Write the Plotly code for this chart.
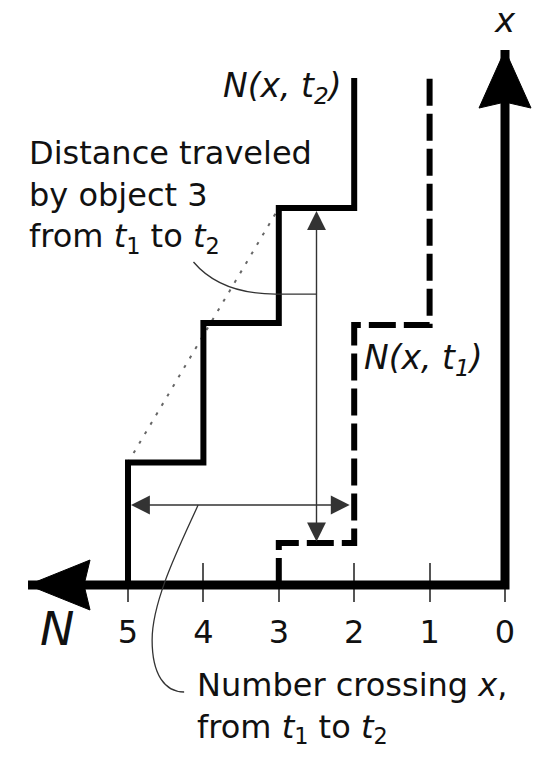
import plotly.graph_objects as go

# Cumulative count curves N(x, t): number of objects at or beyond position x.
# Points are step corners; the curve is drawn vertical-then-horizontal.
N_T2 = [5, 4, 3, 2, 2]
X_T2 = [0.0, 1.625, 3.475, 5.0, 6.724]
N_T1 = [3, 2, 1, 1]
X_T1 = [0.0, 0.557, 3.448, 6.724]

N_TICKS = [0, 1, 2, 3, 4, 5]
N_TICK_TEXT = ["0", "1", "2", "3", "4", "5"]

# Ends of the two drawn axes (arrow tips)
N_AXIS_END = 6.326
X_AXIS_END = 7.095

# Position x at which the horizontal "number crossing" arrow is read
X_PROBE = 1.061

# Canvas and scale (same number of pixels per unit on both axes)
W, H = 552, 758
PX_PER_UNIT = 75.4
ORIGIN_PX = (505, 585)

FONT = "DejaVu Sans"
INK = "#111111"
THIN = "#333333"


def count_at(ns, xs, x):
    """Value of a step curve N(x) at position x."""
    val = ns[0]
    for n, xv in zip(ns[1:], xs[1:]):
        if x >= xv:
            val = n
    return val


x_range = [ORIGIN_PX[0] / PX_PER_UNIT, (ORIGIN_PX[0] - W) / PX_PER_UNIT]
y_range = [(ORIGIN_PX[1] - H) / PX_PER_UNIT, ORIGIN_PX[1] / PX_PER_UNIT]

fig = go.Figure()

# Dotted trajectory through the t2 step corners
fig.add_trace(go.Scatter(
    x=[N_T2[0], N_T2[2]], y=[X_T2[1], X_T2[3]], mode="lines",
    line=dict(color="#666666", width=2, dash="3px,8px"), hoverinfo="skip"))

# Axes drawn as one thick polyline meeting at the origin
fig.add_trace(go.Scatter(
    x=[N_AXIS_END, 0, 0], y=[0, 0, X_AXIS_END], mode="lines",
    line=dict(color="#000000", width=9), hoverinfo="skip"))

# N(x, t1): dashed
fig.add_trace(go.Scatter(
    x=N_T1, y=X_T1, mode="lines",
    line=dict(color="#000000", width=6, dash="27px,8px", shape="vh"),
    hoverinfo="skip"))

# N(x, t2): solid
fig.add_trace(go.Scatter(
    x=N_T2, y=X_T2, mode="lines",
    line=dict(color="#000000", width=6, shape="vh"), hoverinfo="skip"))

# Axis arrowheads, sized in pixels and pinned to the axis ends
fig.add_shape(type="path", xref="x", yref="y", xsizemode="pixel", ysizemode="pixel",
              xanchor=N_AXIS_END, yanchor=0,
              path="M0,0 L62,25 L56,0 L62,-25 Z",
              fillcolor="#000000", line=dict(color="#000000", width=1))
fig.add_shape(type="path", xref="x", yref="y", xsizemode="pixel", ysizemode="pixel",
              xanchor=0, yanchor=X_AXIS_END,
              path="M0,0 L26,-58 L0,-52 L-26,-58 Z",
              fillcolor="#000000", line=dict(color="#000000", width=1))

# Distance traveled by object 3: from its t1 position to its t2 position
obj3_n = (N_T2[2] + N_T2[3]) / 2
fig.add_annotation(x=obj3_n, y=X_T2[3], ax=obj3_n, ay=X_T1[1],
                   xref="x", yref="y", axref="x", ayref="y", text="",
                   showarrow=True, arrowside="end+start",
                   arrowhead=2, startarrowhead=2, arrowsize=2.7, startarrowsize=2.7,
                   arrowwidth=1.4, arrowcolor=THIN, standoff=3, startstandoff=0)

# Number crossing X_PROBE between t1 and t2
n_t1 = count_at(N_T1, X_T1, X_PROBE)
n_t2 = count_at(N_T2, X_T2, X_PROBE)
fig.add_annotation(x=n_t2, y=X_PROBE, ax=n_t1, ay=X_PROBE,
                   xref="x", yref="y", axref="x", ayref="y", text="",
                   showarrow=True, arrowside="end+start",
                   arrowhead=2, startarrowhead=2, arrowsize=2.7, startarrowsize=2.7,
                   arrowwidth=1.4, arrowcolor=THIN, standoff=3, startstandoff=3)

# Leader curves from the captions to the arrows
fig.add_shape(type="path", xref="x", yref="y", xsizemode="pixel", ysizemode="pixel",
              xanchor=obj3_n, yanchor=3.859,
              path="M-123,32 Q-96,0 -41,0 L0,0",
              line=dict(color=THIN, width=1.3))
fig.add_shape(type="path", xref="x", yref="y", xsizemode="pixel", ysizemode="pixel",
              xanchor=4.07, yanchor=X_PROBE,
              path="M0,0 C-18,-40 -46,-95 -46,-135 C-46,-170 -33,-187 -14,-187",
              line=dict(color=THIN, width=1.3))

# Labels
def label(text, x, y, size, xanchor="center", yanchor="middle", align="left", xshift=0):
    fig.add_annotation(x=x, y=y, xref="x", yref="y", text=text, showarrow=False,
                       xanchor=xanchor, yanchor=yanchor, align=align, xshift=xshift,
                       font=dict(family=FONT, size=size, color=INK))

label("<i>x</i>", 0, 7.49, 34)
label("<i>N</i>", 5.94, -0.584, 46)
label("<i>N(x, t<sub>2</sub>)</i>", 2, 6.598, 33, xanchor="right", xshift=-10)
label("<i>N(x, t<sub>1</sub>)</i>", 2, 2.99, 33, xanchor="left", xshift=8)
label("Distance traveled<br>by object 3<br>from <i>t</i><sub>1</sub> to <i>t</i><sub>2</sub>",
      6.34, 5.146, 32, xanchor="left")
label("Number crossing <i>x</i>,<br>from <i>t</i><sub>1</sub> to <i>t</i><sub>2</sub>",
      4.11, -1.631, 32, xanchor="left")

fig.update_layout(
    width=W, height=H, margin=dict(l=0, r=0, t=0, b=0, pad=0),
    paper_bgcolor="white", plot_bgcolor="white", showlegend=False,
    xaxis=dict(range=x_range, domain=[0, 1], anchor="free",
               position=(H - 602) / H, layer="below traces",
               showgrid=False, zeroline=False, showline=False,
               tickmode="array", tickvals=N_TICKS, ticktext=N_TICK_TEXT,
               ticks="inside", ticklen=39, tickwidth=1.5, tickcolor="#555555",
               ticklabelstandoff=8,
               tickfont=dict(family=FONT, size=32, color=INK), fixedrange=True),
    yaxis=dict(range=y_range, domain=[0, 1], visible=False, fixedrange=True),
)

fig.write_html("out.html")
